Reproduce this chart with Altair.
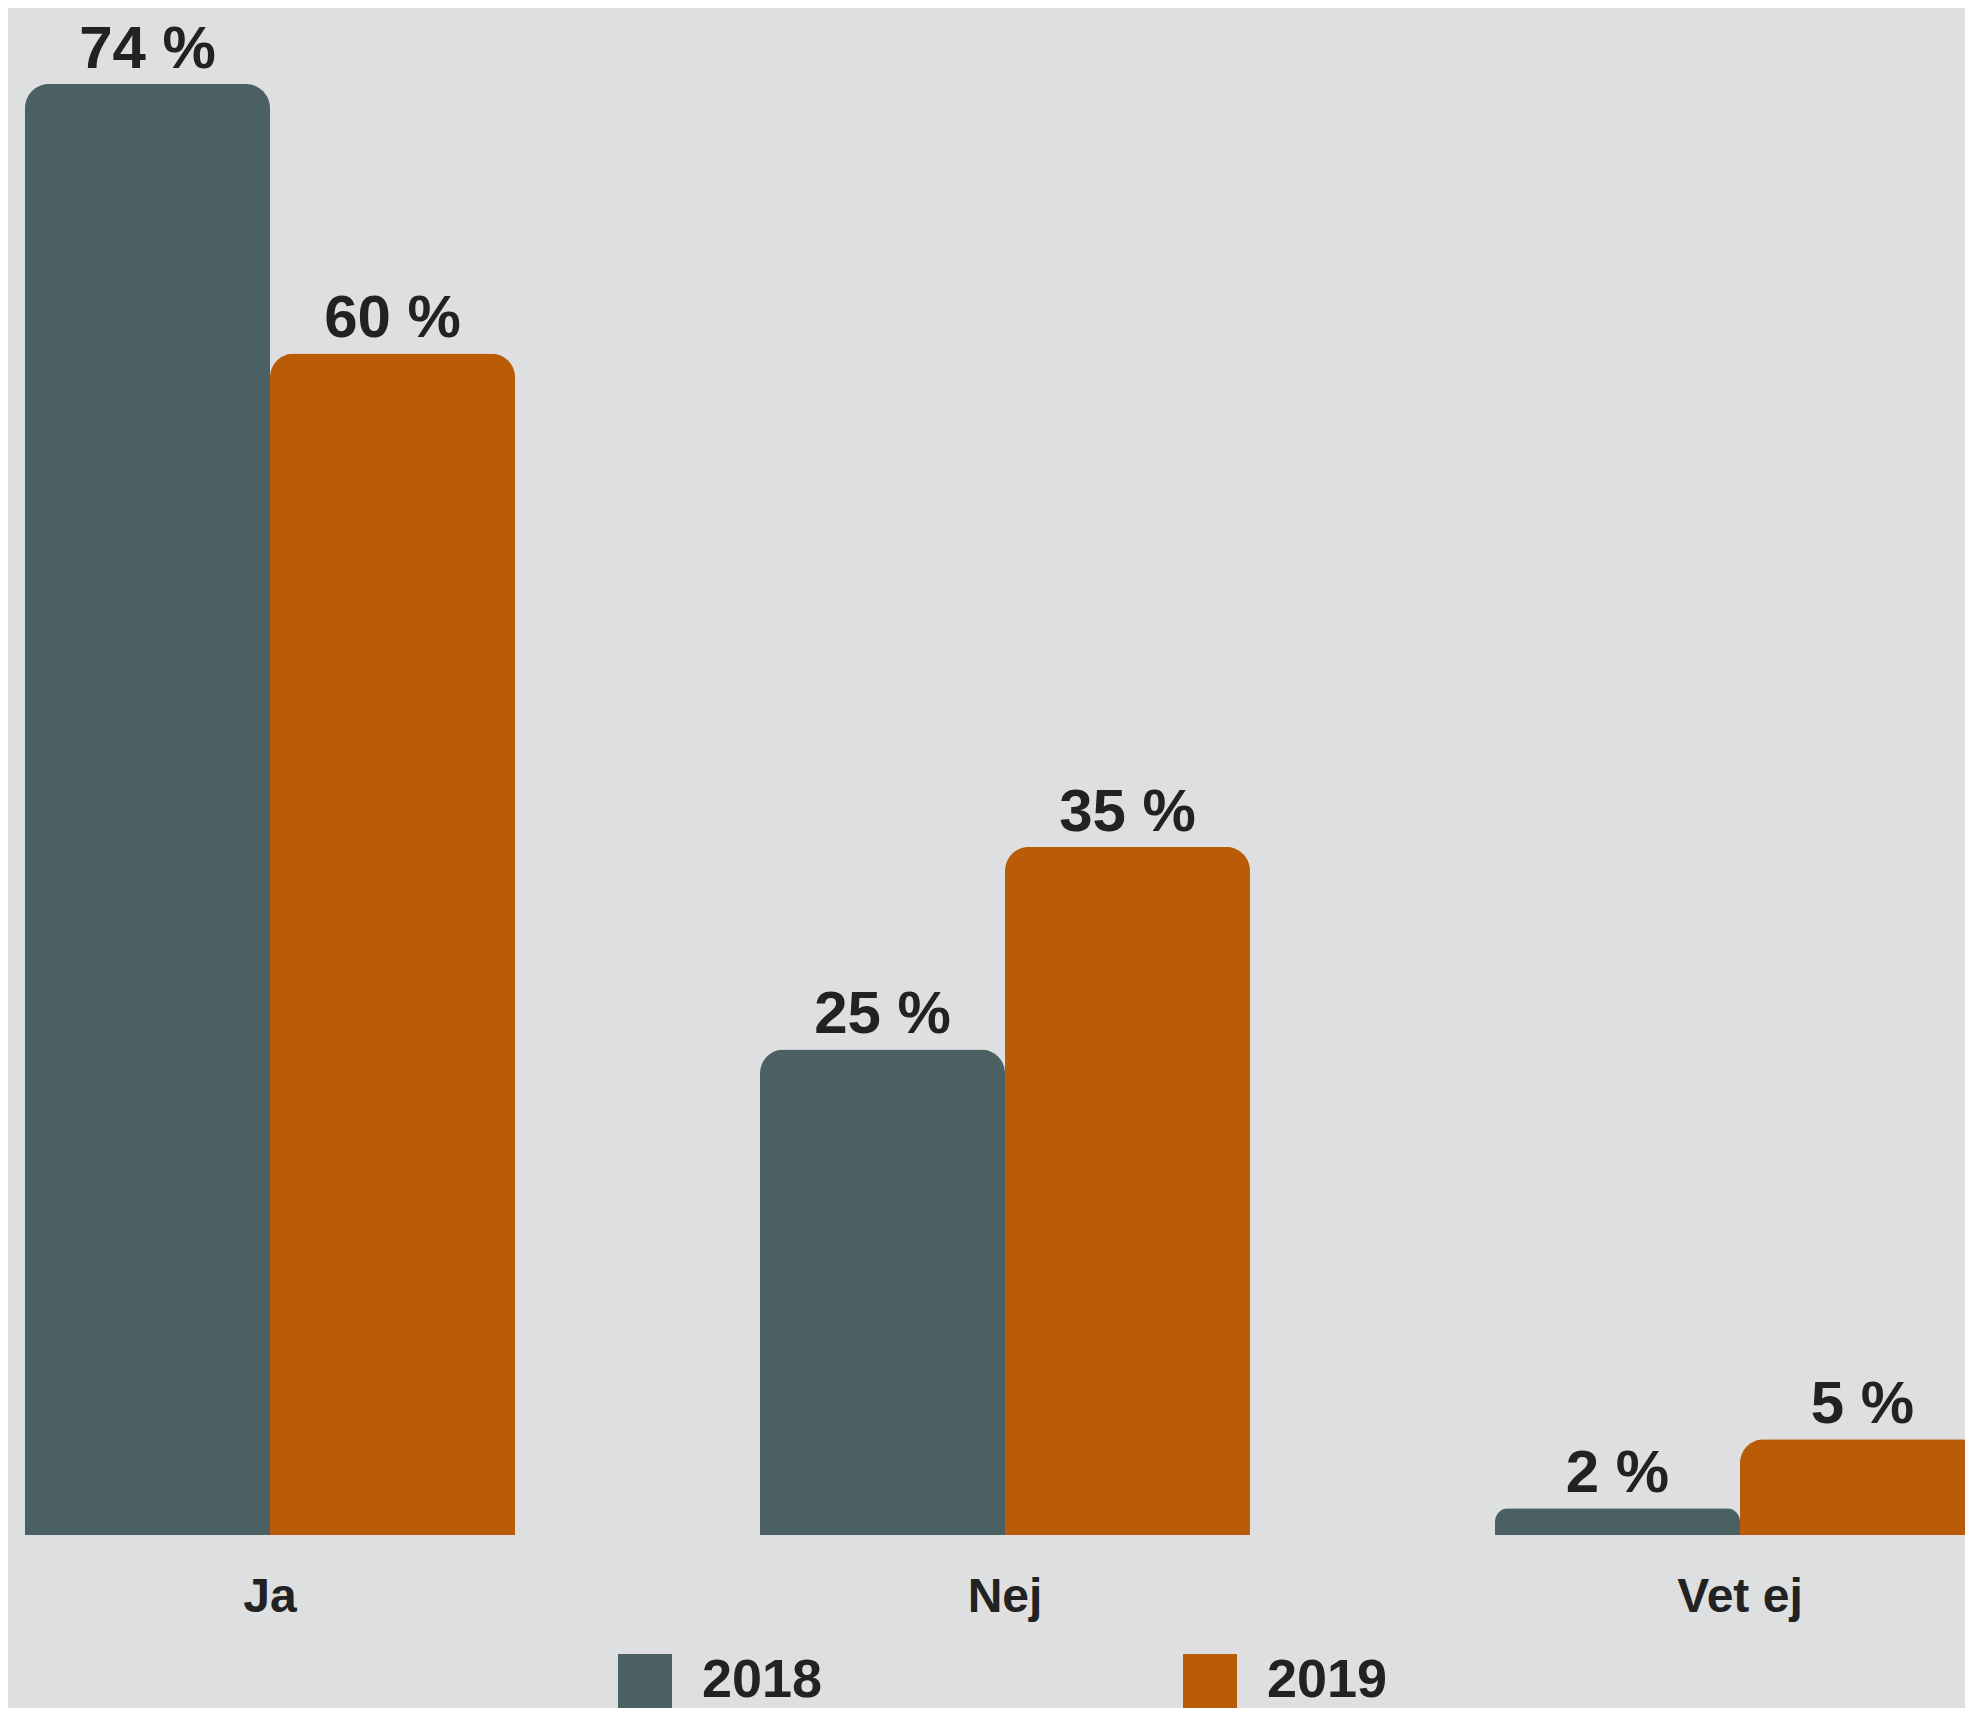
import altair as alt
import pandas as pd

categories = ["Ja", "Nej", "Vet ej"]
years = ["2018", "2019"]
values_2018 = [73.8, 24.7, 1.36]
values_2019 = [60.1, 35.0, 4.87]
labels_2018 = ["74 %", "25 %", "2 %"]
labels_2019 = ["60 %", "35 %", "5 %"]
colors = ["#4a6063", "#ba5b08"]

rows = []
for c, v, l in zip(categories, values_2018, labels_2018):
    rows.append({"kategori": c, "år": "2018", "värde": v, "etikett": l})
for c, v, l in zip(categories, values_2019, labels_2019):
    rows.append({"kategori": c, "år": "2019", "värde": v, "etikett": l})
df = pd.DataFrame(rows)

FONT = "Liberation Sans"

x = alt.X("kategori:N", sort=categories,
          scale=alt.Scale(range=[17, 1977], paddingInner=1/3, paddingOuter=0),
          axis=alt.Axis(title=None, domain=False, ticks=False, labelAngle=0,
                        labelPadding=38, labelFontSize=48, labelFont=FONT,
                        labelFontWeight="bold", labelColor="#222222"))
xo = alt.XOffset("år:N", sort=years)
y = alt.Y("värde:Q", scale=alt.Scale(domain=[0, 77.67], nice=False, zero=True), axis=None)

bars = alt.Chart(df).mark_bar(cornerRadiusTopLeft=24, cornerRadiusTopRight=24).encode(
    x=x, xOffset=xo, y=y,
    color=alt.Color("år:N", sort=years,
                    scale=alt.Scale(domain=years, range=colors),
                    legend=alt.Legend(title=None, orient="none", legendX=610, legendY=1646,
                                      direction="horizontal", symbolType="square",
                                      symbolSize=2916, symbolStrokeWidth=0, symbolOpacity=1,
                                      labelFontSize=54, labelFont=FONT, labelFontWeight="bold",
                                      labelColor="#222222", labelOffset=30, columnPadding=360,
                                      padding=0))
)

text = alt.Chart(df).mark_text(baseline="alphabetic", dy=-16, fontSize=60, font=FONT,
                               fontWeight="bold", color="#222222").encode(
    x=x, xOffset=xo, y=y, text="etikett:N"
)

chart = alt.layer(bars, text).properties(
    width=1957, height=1527,
    autosize=alt.AutoSizeParams(type="none"),
    padding={"left": 0, "top": 0, "right": 0, "bottom": 173},
    background="#dddfe0",
).configure_view(stroke=None)

chart.save("out.html", embed_options={"renderer": "svg", "actions": False})
